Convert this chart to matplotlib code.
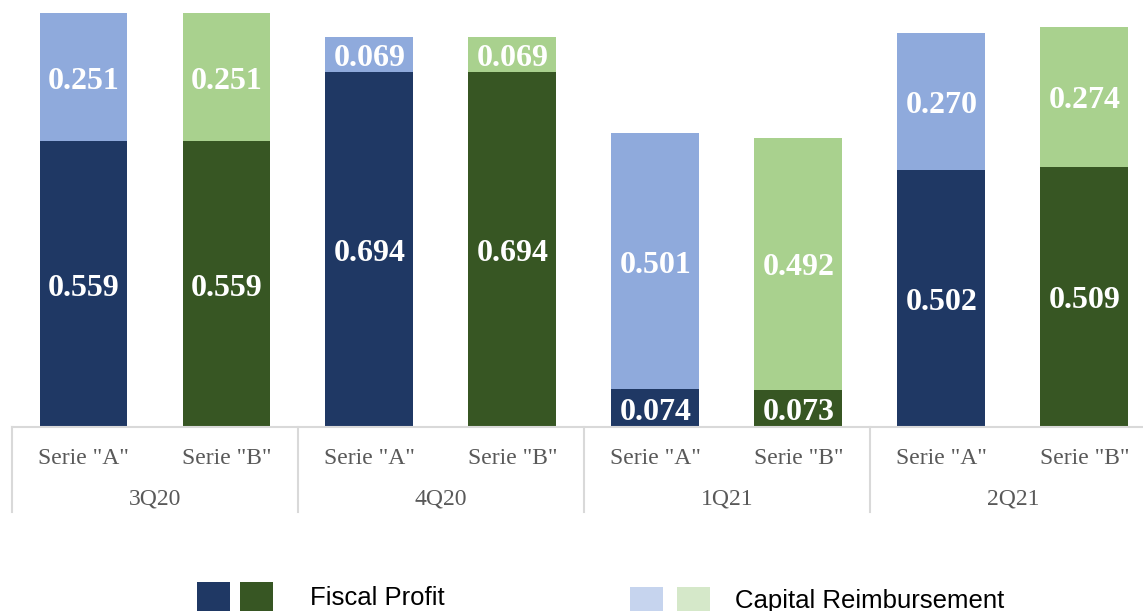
import numpy as np
import matplotlib
matplotlib.use("Agg")
from matplotlib import pyplot as plt
from matplotlib.patches import Rectangle
import matplotlib.transforms as mtransforms

# data
groups = ["3Q20", "4Q20", "1Q21", "2Q21"]
series = ['Serie "A"', 'Serie "B"']
fiscal_profit = [0.559, 0.559, 0.694, 0.694, 0.074, 0.073, 0.502, 0.509]
capital_reimb = [0.251, 0.251, 0.069, 0.069, 0.501, 0.492, 0.270, 0.274]
legend_labels = ["Fiscal Profit", "Capital Reimbursement"]

# colours: series A blue, series B green
dark_cols = ["#1F3864", "#375623"]
light_cols = ["#8FAADC", "#A9D18E"]
legend_light = ["#C6D4EE", "#D5E8C9"]

W, H = 1143, 611
fig = plt.figure(figsize=(W / 100, H / 100), dpi=100)
ax = fig.add_axes([12 / W, (H - 427) / H, 1 - 12 / W, 427 / H])

x = np.arange(len(fiscal_profit))
cols_d = [dark_cols[i % 2] for i in x]
cols_l = [light_cols[i % 2] for i in x]
bw = 0.615
ax.bar(x, fiscal_profit, width=bw, color=cols_d, linewidth=0)
ax.bar(x, capital_reimb, width=bw, bottom=fiscal_profit, color=cols_l, linewidth=0)

# value labels, nudged down a few pixels
off = mtransforms.ScaledTranslation(0, -4 / 100, fig.dpi_scale_trans)
lab_font = dict(family="Liberation Serif", fontsize=23, fontweight="bold", color="white",
                ha="center", va="center", transform=ax.transData + off)
for i in x:
    ax.text(i, fiscal_profit[i] / 2, f"{fiscal_profit[i]:.3f}", **lab_font)
    ax.text(i, fiscal_profit[i] + capital_reimb[i] / 2, f"{capital_reimb[i]:.3f}", **lab_font)

ax.set_xlim(-0.5, 7.41)
ax.set_ylim(0, 427 / 511)
for s in ["top", "right", "left"]:
    ax.spines[s].set_visible(False)
ax.spines["bottom"].set_color("#D9D9D9")
ax.spines["bottom"].set_linewidth(1.5)
ax.set_yticks([])
ax.set_xticks([])

trans = mtransforms.blended_transform_factory(ax.transData, ax.transAxes)
txt_font = dict(family="Liberation Serif", fontsize=17, color="#595959", ha="center", va="center")
for i in x:
    ax.text(i, -0.073, series[i % 2], transform=trans, **txt_font)
for g, name in enumerate(groups):
    ax.text(2 * g + 0.5, -0.169, name, transform=trans, **txt_font)
for b in [-0.5, 1.5, 3.5, 5.5]:
    ax.plot([b, b], [0, -0.2], transform=trans, color="#D9D9D9", lw=1.5, clip_on=False)

# legend drawn by hand
def box(px, py, pw, ph, c):
    fig.add_artist(Rectangle((px / W, 1 - (py + ph) / H), pw / W, ph / H,
                             transform=fig.transFigure, color=c, lw=0))

box(197, 582, 33, 33, dark_cols[0])
box(240, 582, 33, 33, dark_cols[1])
box(630, 587, 33, 33, legend_light[0])
box(677, 587, 33, 33, legend_light[1])
fig.text(310 / W, 1 - 598 / H, legend_labels[0], family="Liberation Sans", fontsize=18.5,
         color="black", va="center", ha="left")
fig.text(735 / W, 1 - 601 / H, legend_labels[1], family="Liberation Sans", fontsize=18.5,
         color="black", va="center", ha="left")

fig.savefig("out.png", dpi=100)
